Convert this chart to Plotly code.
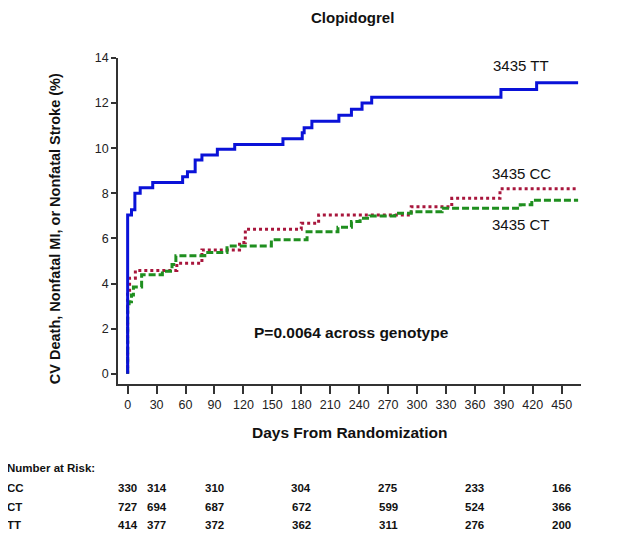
import plotly.graph_objects as go

# Kaplan-Meier curves (days, cumulative event %)
tt_days = [0, 0, 4, 7.5, 13, 26, 57, 62, 70, 77, 93, 111, 161, 181, 183, 191, 219, 232, 243, 253, 387, 424, 467]
tt_pct = [0, 7.04, 7.27, 8.0, 8.25, 8.48, 8.74, 8.96, 9.48, 9.70, 9.95, 10.17, 10.42, 10.69, 10.91, 11.2, 11.46, 11.73, 12.0, 12.26, 12.6, 12.9, 12.9]

cc_days = [0, 0, 2, 8, 51, 77, 116, 122, 180, 198, 294, 336, 386, 465]
cc_pct = [0, 3.6, 4.24, 4.58, 4.9, 5.49, 5.82, 6.41, 6.67, 7.04, 7.41, 7.78, 8.2, 8.2]

ct_days = [0, 0, 1.5, 4, 6, 14.5, 36, 46, 50, 80, 103, 149, 186, 218, 232, 241, 251, 277, 294, 326, 407, 419, 467]
ct_pct = [0, 3.0, 3.2, 3.5, 3.85, 4.39, 4.55, 4.85, 5.24, 5.38, 5.67, 5.94, 6.3, 6.5, 6.75, 6.9, 7.0, 7.12, 7.19, 7.34, 7.49, 7.7, 7.7]

x_ticks = list(range(0, 451, 30))

# numbers at risk table
risk_days = [0, 30, 90, 180, 270, 360, 450]
risk_groups = ['CC', 'CT', 'TT']
risk_cc = [330, 314, 310, 304, 275, 233, 166]
risk_ct = [727, 694, 687, 672, 599, 524, 366]
risk_tt = [414, 377, 372, 362, 311, 276, 200]

FONT = 'Liberation Sans, Arial, sans-serif'
blue = '#0a12d8'
red = '#a8163c'
green = '#1f8f1f'

fig = go.Figure()
fig.add_trace(go.Scatter(x=cc_days, y=cc_pct, mode='lines', line_shape='hv',
                         line=dict(color=red, width=3, dash='3px,3px'), name='3435 CC'))
fig.add_trace(go.Scatter(x=ct_days, y=ct_pct, mode='lines', line_shape='hv',
                         line=dict(color=green, width=3, dash='7px,3px'), name='3435 CT'))
fig.add_trace(go.Scatter(x=tt_days, y=tt_pct, mode='lines', line_shape='hv',
                         line=dict(color=blue, width=3), name='3435 TT'))

ann = []
# curve labels
ann.append(dict(x=408, y=13.65, text='3435 TT'))
ann.append(dict(x=408, y=8.86, text='3435 CC'))
ann.append(dict(x=408, y=6.6, text='3435 CT'))
ann.append(dict(x=497, y=12.9, text='12.9'))
ann.append(dict(x=502, y=8.4, text='8.2'))
ann.append(dict(x=502, y=7.49, text='7.7'))
for a in ann:
    a.update(xref='x', yref='y', showarrow=False, xanchor='center', yanchor='middle',
             font=dict(family=FONT, size=15, color='#111'))

ann.append(dict(x=232, y=1.82, xref='x', yref='y', showarrow=False, text='<b>P=0.0064 across genotype</b>',
                font=dict(family=FONT, size=15.5, color='#111')))

# titles
ann.append(dict(x=0.5065, y=1.1534, xref='paper', yref='paper', showarrow=False, text='<b>Clopidogrel</b>',
                font=dict(family=FONT, size=15, color='#111'), yanchor='top', borderpad=0))
ann.append(dict(x=0.502, y=-0.148, xref='paper', yref='paper', showarrow=False,
                text='<b>Days From Randomization</b>', yanchor='middle',
                font=dict(family=FONT, size=15.5, color='#111')))
ann.append(dict(x=-0.136, y=0.475, xref='paper', yref='paper', showarrow=False, textangle=-90,
                text='<b>CV Death, Nonfatal MI, or Nonfatal Stroke (%)</b>',
                xanchor='center', yanchor='middle',
                font=dict(family=FONT, size=14.5, color='#111')))

# number at risk
ann.append(dict(x=-0.244, y=-0.2586, xref='paper', yref='paper', showarrow=False, text='<b>Number at Risk:</b>',
                xanchor='left', yanchor='middle', font=dict(family=FONT, size=11.5, color='#111')))
rows = [risk_cc, risk_ct, risk_tt]
row_y = [-0.318, -0.3764, -0.4325]
for g, vals, yy in zip(risk_groups, rows, row_y):
    ann.append(dict(x=-0.244, y=yy, xref='paper', yref='paper', showarrow=False, text='<b>' + g + '</b>',
                    xanchor='left', yanchor='middle', font=dict(family=FONT, size=11.5, color='#111')))
    for d, v in zip(risk_days, vals):
        ann.append(dict(x=d, y=yy, xref='x', yref='paper', showarrow=False, text='<b>%d</b>' % v,
                        xanchor='center', yanchor='middle', font=dict(family=FONT, size=11.5, color='#111')))

# page body has an 8px margin, so the figure is sized and offset to fit the window
fig.update_layout(
    width=618, height=526,
    margin=dict(l=110, r=45, t=50, b=150),
    paper_bgcolor='white', plot_bgcolor='white',
    showlegend=False,
    font=dict(family=FONT, size=12.5, color='#222'),
    annotations=ann,
    xaxis=dict(range=[-10, 470], tickvals=x_ticks, showgrid=False, zeroline=False,
               showline=True, linecolor='#333', linewidth=1.5,
               ticks='outside', ticklen=8, tickwidth=1.5, tickcolor='#333',
               tickfont=dict(family=FONT, size=12.5, color='#222')),
    yaxis=dict(range=[-0.45, 14], tickvals=list(range(0, 15, 2)), showgrid=False, zeroline=False,
               showline=True, linecolor='#333', linewidth=1.5,
               ticks='outside', ticklen=5, tickwidth=1.5, tickcolor='#333',
               tickfont=dict(family=FONT, size=12.5, color='#222')),
)

fig.write_html("out.html")
